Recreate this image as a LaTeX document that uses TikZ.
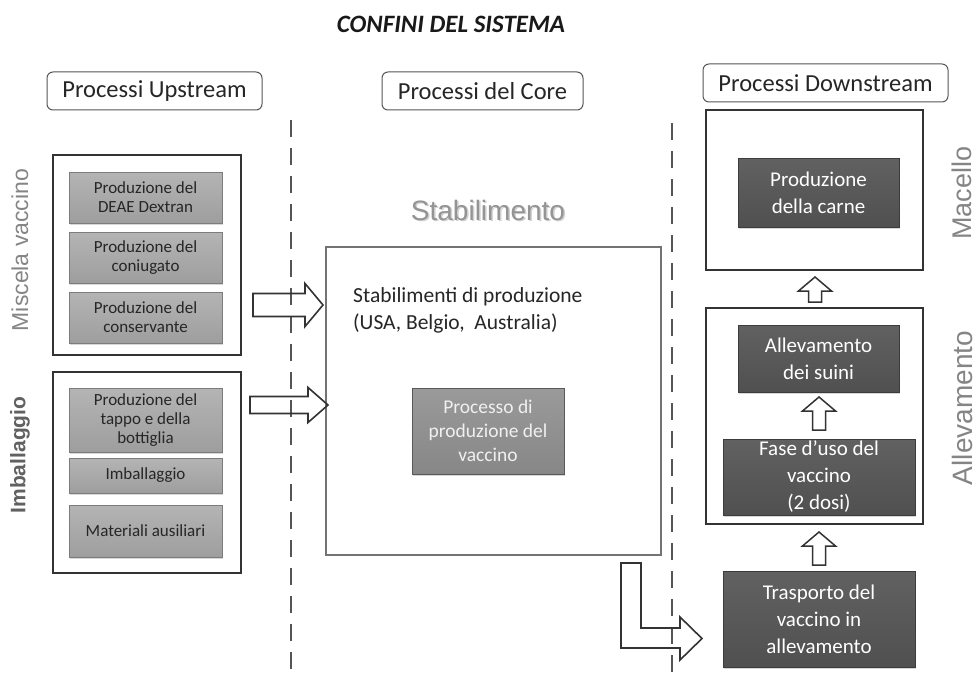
\documentclass[tikz,border=0pt]{standalone}
\usepackage{fontspec}
\setmainfont{Carlito}
\newfontfamily\arialf{Liberation Sans}
\usetikzlibrary{shadows}
\definecolor{framec}{HTML}{333333}
\definecolor{lblc}{HTML}{555555}
\definecolor{upfill}{HTML}{A6A6A6}
\definecolor{uptop}{HTML}{B4B4B4}
\definecolor{upbot}{HTML}{9E9E9E}
\definecolor{updraw}{HTML}{7C7C7C}
\definecolor{corefill}{HTML}{8E8E8E}
\definecolor{coretop}{HTML}{9A9A9A}
\definecolor{corebot}{HTML}{878787}
\definecolor{darkfill}{HTML}{575757}
\definecolor{darktop}{HTML}{616161}
\definecolor{darkbot}{HTML}{505050}
\definecolor{darkdraw}{HTML}{3C3C3C}
\definecolor{sidec}{HTML}{858585}
\definecolor{dashc}{HTML}{555555}
\begin{document}
\begin{tikzpicture}[x=1pt,y=-1pt,
  lbl/.style={draw=lblc, line width=1pt, rounded corners=6pt, inner sep=0pt,
    font=\fontsize{24.5}{28}\selectfont, text=black!85},
  frame/.style={draw=framec, line width=2.8pt},
  upbox/.style={draw=updraw, line width=0.8pt, top color=uptop, bottom color=upbot, inner sep=0pt, align=center,
    text=black!85, font=\fontsize{17}{19}\selectfont,
    drop shadow={opacity=0.3, shadow xshift=1.2pt, shadow yshift=-1.5pt}},
  corebox/.style={draw=gray!70!black, line width=0.8pt, top color=coretop, bottom color=corebot, inner sep=0pt, align=center,
    text=white!94!black, font=\fontsize{19.5}{24}\selectfont,
    drop shadow={opacity=0.3, shadow xshift=1.2pt, shadow yshift=-1.5pt}},
  darkbox/.style={draw=darkdraw, line width=0.8pt, top color=darktop, bottom color=darkbot, inner sep=0pt, align=center,
    text=white, font=\fontsize{21}{27}\selectfont,
    drop shadow={opacity=0.3, shadow xshift=1.2pt, shadow yshift=-1.5pt}},
  blockarr/.style={draw=framec, line width=1.6pt, line join=miter},
  sidelbl/.style={rotate=90, inner sep=0pt, font=\arialf\fontsize{23}{26}\selectfont, text=sidec},
  dashline/.style={draw=dashc, line width=1.3pt, dash pattern=on 17pt off 11pt}
]
\useasboundingbox (0,0) rectangle (979,674);
\fill[white] (0,0) rectangle (979,674);

% title
\node[font=\bfseries\itshape\fontsize{25}{28}\selectfont, text=black!90] (title) at (451,24) {CONFINI DEL SISTEMA};

% column labels
\node[lbl, minimum width=215, minimum height=38] (lup) at (154.5,91) {Processi Upstream};
\node[lbl, minimum width=201, minimum height=38] (lcore) at (482.5,91) {Processi del Core};
\node[lbl, minimum width=245, minimum height=38] (ldown) at (825.5,83) {Processi Downstream};

% dashed boundaries
\coordinate (d1t) at (291,120);
\coordinate (d1b) at (291,674);
\coordinate (d2t) at (672,123);
\coordinate (d2b) at (672,674);
\draw[dashline] (d1t) -- (d1b);
\draw[dashline] (d2t) -- (d2b);

% upstream frames
\node[frame, minimum width=188, minimum height=200, inner sep=0pt] (miscela) at (147,255) {};
\node[frame, minimum width=188, minimum height=201, inner sep=0pt] (imball) at (147,472.5) {};

\node[upbox, minimum width=153, minimum height=51] (u1) at (145.5,197.5) {Produzione del\\DEAE Dextran};
\node[upbox, minimum width=153, minimum height=51] (u2) at (145.5,257.5) {Produzione del\\coniugato};
\node[upbox, minimum width=153, minimum height=51] (u3) at (145.5,317.5) {Produzione del\\conservante};
\node[upbox, minimum width=153, minimum height=64] (i1) at (145.5,420) {Produzione del\\tappo e della\\bottiglia};
\node[upbox, minimum width=153, minimum height=35] (i2) at (145.5,475.5) {Imballaggio};
\node[upbox, minimum width=153, minimum height=52] (i3) at (145.5,531) {Materiali ausiliari};

\node[sidelbl] (lmiscela) at (20,250) {Miscela vaccino};
\node[sidelbl, font=\arialf\bfseries\fontsize{21}{24}\selectfont, text=black!62] (limball) at (20,455) {Imballaggio};

% core
\node[text=black!18, font=\arialf\fontsize{28}{32}\selectfont] at (489.5,211.5) {Stabilimento};
\node[text=black!42, font=\arialf\fontsize{28}{32}\selectfont] (lstab) at (488,210) {Stabilimento};
\node[draw=black!55, line width=1.8pt, minimum width=335, minimum height=308, inner sep=0pt] (core) at (493.5,401) {};
\node[anchor=west, align=left, inner sep=0pt, text=black!85, font=\fontsize{21.5}{27}\selectfont] (stabtxt) at (353,310) {Stabilimenti di produzione\\(USA, Belgio,\ \ Australia)};
\node[corebox, minimum width=152, minimum height=86] (proc) at (488,431) {Processo di\\produzione del\\vaccino};

% downstream frames
\node[frame, minimum width=217, minimum height=160, inner sep=0pt] (macello) at (814.5,190) {};
\node[frame, minimum width=217, minimum height=216, inner sep=0pt] (allev) at (814.5,416) {};
\node[darkbox, minimum width=161, minimum height=69] (carne) at (818.5,192.5) {Produzione\\della carne};
\node[darkbox, minimum width=161, minimum height=67] (suini) at (818.5,358.5) {Allevamento\\dei suini};
\node[darkbox, minimum width=192, minimum height=76] (fase) at (819,477) {Fase d’uso del\\vaccino\\(2 dosi)};
\node[darkbox, minimum width=192, minimum height=96] (trasp) at (819,619) {Trasporto del\\vaccino in\\allevamento};

\node[sidelbl, font=\arialf\fontsize{27}{30}\selectfont] (lmacello) at (962,193) {Macello};
\node[sidelbl, font=\arialf\fontsize{28}{30}\selectfont] (lallev) at (962,408) {Allevamento};

% block arrows upstream -> core
\draw[blockarr] (253,293.5) -- (305,293.5) -- (305,283.5) -- (323,305) -- (305,326.5) -- (305,316.5) -- (253,316.5) -- cycle;
\draw[blockarr] (250,396.5) -- (308,396.5) -- (308,387.5) -- (328,405) -- (308,422.5) -- (308,413.5) -- (250,413.5) -- cycle;

% bent arrow core -> trasporto
\draw[blockarr] (621,563) -- (641,563) -- (641,628) -- (680,628) -- (680,617) -- (702,638.5) -- (680,660) -- (680,648) -- (621,648) -- cycle;

% up arrows
\newcommand\myUpArr[3]{% x, bottom, tip
  \draw[blockarr, line width=1.5pt] ({#1-6.5},#2) -- ({#1-6.5},{#3+14}) -- ({#1-16.5},{#3+14}) -- (#1,#3)
    -- ({#1+16.5},{#3+14}) -- ({#1+6.5},{#3+14}) -- ({#1+6.5},#2) -- cycle;}
\myUpArr{815}{302}{277}
\myUpArr{819}{430}{397}
\myUpArr{819}{565}{532}
\end{tikzpicture}
\end{document}
